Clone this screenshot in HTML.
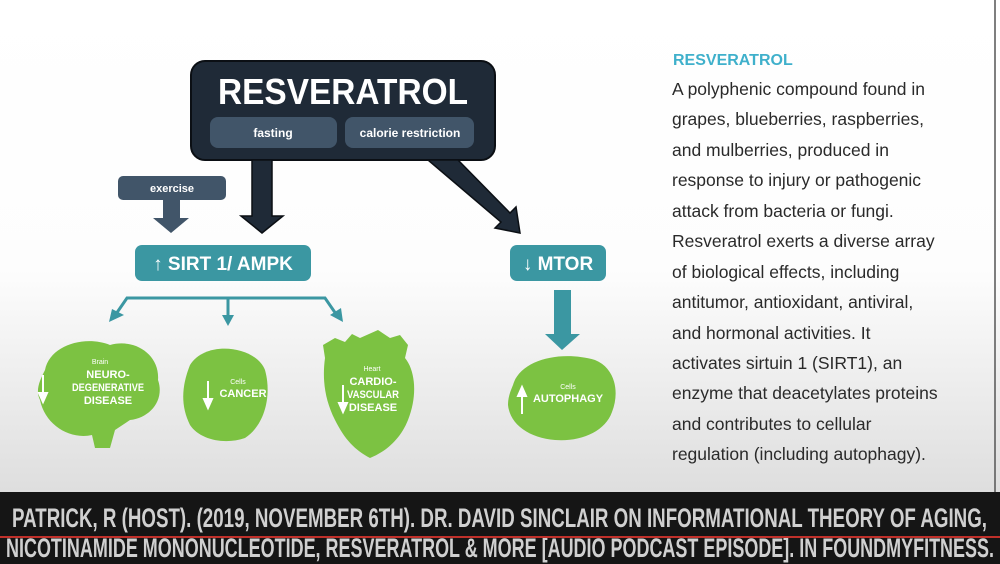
<!DOCTYPE html>
<html><head><meta charset="utf-8"><style>
html,body{margin:0;padding:0;width:1000px;height:564px;overflow:hidden;background:#fff}
svg{display:block}
</style></head><body>
<svg width="1000" height="564" viewBox="0 0 1000 564" xmlns="http://www.w3.org/2000/svg" font-family="Liberation Sans, sans-serif">
<defs>
<linearGradient id="bg" x1="0" y1="0" x2="0" y2="1">
<stop offset="0" stop-color="#ffffff"/><stop offset="0.55" stop-color="#fdfdfd"/><stop offset="1" stop-color="#dedede"/>
</linearGradient>
</defs>
<rect x="0" y="0" width="1000" height="492" fill="url(#bg)"/>
<line x1="995" y1="0" x2="995" y2="492" stroke="#555" stroke-width="1.5"/>

<rect x="191" y="61" width="304" height="99" rx="14" fill="#1f2a37" stroke="#0b0f14" stroke-width="2"/>
<text x="343" y="104" text-anchor="middle" font-size="36" font-weight="700" fill="#fff" textLength="250" lengthAdjust="spacingAndGlyphs">RESVERATROL</text>
<rect x="210" y="117" width="127" height="31" rx="8" fill="#415569"/>
<rect x="345" y="117" width="129" height="31" rx="8" fill="#415569"/>
<text x="273" y="137" text-anchor="middle" font-size="12" font-weight="bold" fill="#fff">fasting</text>
<text x="410" y="137" text-anchor="middle" font-size="12" font-weight="bold" fill="#fff">calorie restriction</text>

<polygon points="252,160 272,160 272,216 283,216 262,233 241,216 252,216" fill="#1f2a37" stroke="#0b0f14" stroke-width="1.5"/>
<polygon points="428,160 458,160 510,213 516,207 520,233 495,228 501,222" fill="#1f2a37" stroke="#0b0f14" stroke-width="1.5"/>

<rect x="118" y="176" width="108" height="24" rx="5" fill="#415569"/>
<text x="172" y="192" text-anchor="middle" font-size="11" font-weight="bold" fill="#fff">exercise</text>
<polygon points="163,200 180,200 180,218 189,218 171,233 153,218 163,218" fill="#415569"/>

<rect x="135" y="245" width="176" height="36" rx="7" fill="#3b97a2"/>
<text x="223" y="270" text-anchor="middle" font-size="19" font-weight="bold" fill="#fff">↑ SIRT 1/ AMPK</text>
<rect x="510" y="245" width="96" height="36" rx="7" fill="#3b97a2"/>
<text x="558" y="270" text-anchor="middle" font-size="19" font-weight="bold" fill="#fff">↓ MTOR</text>

<g stroke="#3b97a2" stroke-width="3" fill="none">
<polyline points="116,314 127,298 325,298 336,314"/>
<line x1="228" y1="298" x2="228" y2="318"/>
</g>
<g fill="#3b97a2">
<polygon points="109,322 112,309 124,315"/>
<polygon points="222,315 234,315 228,326"/>
<polygon points="343,322 330,315 341,308"/>
<polygon points="554,290 571,290 571,334 580,334 562,350 545,334 554,334"/>
</g>

<g fill="#7cc242">
<path d="M45,370 C50,345 85,335 110,345 C135,338 160,355 158,380 C165,400 150,418 130,420 L115,430 L110,448 L95,448 L92,435 C70,440 45,425 40,400 C35,390 40,380 45,370Z"/>
<path d="M190,365 C205,340 255,345 265,370 C272,395 265,425 245,438 C225,445 200,440 190,425 C180,405 182,385 190,365Z"/>
<path d="M325,358 L323,345 L335,338 L345,342 L352,334 L360,338 L378,330 L390,338 L400,335 L408,345 L405,358 C415,370 418,395 408,420 C400,440 385,452 370,458 C355,450 345,440 335,420 C325,400 322,380 325,358Z"/>
<path d="M513,385 C520,360 560,350 595,360 C615,368 620,392 612,412 C605,432 580,442 555,440 C530,438 510,425 508,405 C508,398 510,392 513,385Z"/>
</g>
<g fill="#fff" text-anchor="middle" font-weight="bold">
<text x="100" y="364" font-size="7" font-weight="normal">Brain</text>
<text x="108" y="378" font-size="11">NEURO-</text>
<text x="108" y="391" font-size="11" textLength="72" lengthAdjust="spacingAndGlyphs">DEGENERATIVE</text>
<text x="108" y="404" font-size="11">DISEASE</text>
<text x="238" y="384" font-size="7" font-weight="normal">Cells</text>
<text x="243" y="397" font-size="11">CANCER</text>
<text x="372" y="371" font-size="7" font-weight="normal">Heart</text>
<text x="373" y="385" font-size="11">CARDIO-</text>
<text x="373" y="398" font-size="11" textLength="52" lengthAdjust="spacingAndGlyphs">VASCULAR</text>
<text x="373" y="411" font-size="11">DISEASE</text>
<text x="568" y="389" font-size="7" font-weight="normal">Cells</text>
<text x="568" y="402" font-size="11">AUTOPHAGY</text>
</g>
<g stroke="#fff" stroke-width="2" fill="#fff">
<line x1="43" y1="375" x2="43" y2="397"/><polygon points="39,393 47,393 43,402"/>
<line x1="208" y1="381" x2="208" y2="403"/><polygon points="204,399 212,399 208,408"/>
<line x1="343" y1="385" x2="343" y2="407"/><polygon points="339,403 347,403 343,412"/>
<line x1="522" y1="392" x2="522" y2="414"/><polygon points="518,396 526,396 522,387"/>
</g>

<text x="673" y="65" font-size="16" font-weight="bold" fill="#3fb0cb">RESVERATROL</text>
<g font-size="17.5" fill="#2a2a2a">
<text x="672" y="95">A polyphenic compound found in</text>
<text x="672" y="125">grapes, blueberries, raspberries,</text>
<text x="672" y="156">and mulberries, produced in</text>
<text x="672" y="186">response to injury or pathogenic</text>
<text x="672" y="217">attack from bacteria or fungi.</text>
<text x="672" y="247">Resveratrol exerts a diverse array</text>
<text x="672" y="278">of biological effects, including</text>
<text x="672" y="308">antitumor, antioxidant, antiviral,</text>
<text x="672" y="339">and hormonal activities. It</text>
<text x="672" y="369">activates sirtuin 1 (SIRT1), an</text>
<text x="672" y="399">enzyme that deacetylates proteins</text>
<text x="672" y="430">and contributes to cellular</text>
<text x="672" y="460">regulation (including autophagy).</text>
</g>

<rect x="0" y="492" width="1000" height="72" fill="#151515"/>
<g font-size="27" font-weight="700" fill="#d0d0d0">
<text x="12" y="527" textLength="975" lengthAdjust="spacingAndGlyphs">PATRICK, R (HOST). (2019, NOVEMBER 6TH). DR. DAVID SINCLAIR ON INFORMATIONAL THEORY OF AGING,</text>
<text x="6" y="557" textLength="988" lengthAdjust="spacingAndGlyphs">NICOTINAMIDE MONONUCLEOTIDE, RESVERATROL &amp; MORE [AUDIO PODCAST EPISODE]. IN FOUNDMYFITNESS.</text>
</g>
<line x1="0" y1="537" x2="1000" y2="537" stroke="#c0302a" stroke-width="2"/>
</svg>
</body></html>
